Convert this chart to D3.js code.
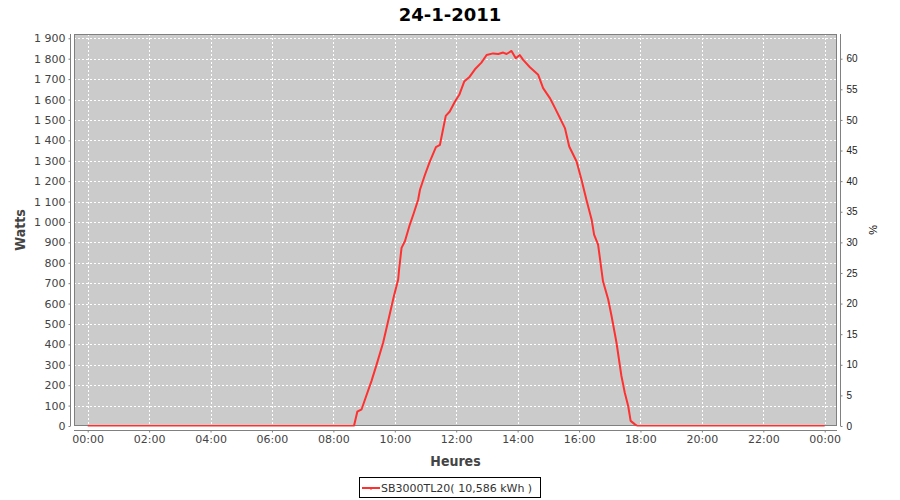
<!DOCTYPE html>
<html>
<head>
<meta charset="utf-8">
<script src="https://cdn.jsdelivr.net/npm/d3@7"></script>
<style>
  html, body { margin: 0; padding: 0; background: #ffffff; }
  svg { display: block; }
</style>
</head>
<body>
<svg id="chart" width="900" height="500"></svg>
<script>
// ---- data ----
const chartTitle = "24-1-2011";
const seriesName = "SB3000TL20( 10,586 kWh )";
const hours = [0, 8.67, 8.78, 8.92, 9.03, 9.24, 9.41, 9.62, 9.82, 9.97, 10.11, 10.14, 10.22, 10.33, 10.49, 10.62, 10.76, 10.82, 10.98, 11.14, 11.34, 11.47, 11.58, 11.66, 11.79, 11.96, 12.10, 12.26, 12.44, 12.61, 12.82, 12.99, 13.20, 13.37, 13.53, 13.64, 13.80, 13.94, 14.07, 14.18, 14.40, 14.67, 14.83, 15.05, 15.21, 15.37, 15.54, 15.68, 15.92, 16.08, 16.24, 16.41, 16.49, 16.62, 16.78, 16.95, 17.06, 17.22, 17.38, 17.49, 17.60, 17.68, 17.82, 17.90, 24];
const watts = [0, 0, 70, 82, 130, 220, 302, 408, 538, 636, 718, 767, 873, 905, 987, 1044, 1109, 1158, 1230, 1296, 1367, 1378, 1460, 1520, 1541, 1590, 1623, 1688, 1712, 1748, 1781, 1818, 1826, 1823, 1830, 1823, 1838, 1802, 1818, 1794, 1758, 1721, 1656, 1607, 1560, 1512, 1460, 1370, 1296, 1207, 1109, 1011, 938, 889, 709, 620, 538, 408, 245, 163, 98, 25, 8, 0, 0];
const xTickHours = [0, 2, 4, 6, 8, 10, 12, 14, 16, 18, 20, 22, 24];
const yTicksWatts = [0, 100, 200, 300, 400, 500, 600, 700, 800, 900, 1000, 1100, 1200, 1300, 1400, 1500, 1600, 1700, 1800, 1900];
const yTicksPercent = [0, 5, 10, 15, 20, 25, 30, 35, 40, 45, 50, 55, 60];
const nominalWatts = 3000;

// ---- layout ----
const svg = d3.select("#chart");
const plot = { left: 74, right: 837, top: 34, bottom: 426 };
const wMax = 1921;

const x = d3.scaleLinear().domain([-0.446, 24.4]).range([plot.left, plot.right]);
const y = d3.scaleLinear().domain([0, wMax]).range([plot.bottom, plot.top]);
const yR = d3.scaleLinear().domain([0, wMax / nominalWatts * 100]).range([plot.bottom, plot.top]);

const loc = d3.formatLocale({ decimal: ",", thousands: "\u00a0", grouping: [3], currency: ["", ""] });
const fmtW = loc.format(",d");
const fmtH = h => String(h % 24).padStart(2, "0") + ":00";

// plot background
svg.append("rect")
  .attr("x", plot.left).attr("y", plot.top)
  .attr("width", plot.right - plot.left).attr("height", plot.bottom - plot.top)
  .attr("fill", "#cbcbcb");

// gridlines
const grid = svg.append("g").attr("stroke", "#ffffff").attr("stroke-width", 1).attr("stroke-dasharray", "2,2");
grid.selectAll("line.h").data(yTicksWatts.filter(d => d > 0)).join("line")
  .attr("x1", plot.left).attr("x2", plot.right)
  .attr("y1", d => Math.round(y(d)) + 0.5).attr("y2", d => Math.round(y(d)) + 0.5);
grid.selectAll("line.v").data(xTickHours).join("line")
  .attr("y1", plot.top).attr("y2", plot.bottom)
  .attr("x1", d => Math.round(x(d)) + 0.5).attr("x2", d => Math.round(x(d)) + 0.5);

// plot outline
svg.append("rect")
  .attr("x", plot.left + 0.5).attr("y", plot.top + 0.5)
  .attr("width", plot.right - plot.left - 1).attr("height", plot.bottom - plot.top - 1)
  .attr("fill", "none").attr("stroke", "#808080").attr("stroke-width", 1);

// series line
svg.append("clipPath").attr("id", "clip").append("rect")
  .attr("x", plot.left).attr("y", plot.top)
  .attr("width", plot.right - plot.left).attr("height", plot.bottom - plot.top + 0.5);
const pts = hours.map((h, i) => [h, watts[i]]);
svg.append("path")
  .attr("clip-path", "url(#clip)")
  .attr("d", d3.line().x(d => x(d[0])).y(d => y(d[1]))(pts))
  .attr("fill", "none").attr("stroke", "#ff3030").attr("stroke-width", 2)
  .attr("stroke-linejoin", "round");

// axes
const tickFont = "'DejaVu Sans', Verdana, sans-serif";
function styleAxis(g, color, size, family) {
  g.select(".domain").attr("stroke", "#808080");
  g.selectAll(".tick line").attr("stroke", "#808080");
  g.selectAll(".tick text").attr("fill", color).style("font-size", size).style("font-family", family);
}

const gL = svg.append("g").attr("transform", "translate(70.5,0)")
  .call(d3.axisLeft(y).tickValues(yTicksWatts).tickFormat(fmtW).tickSize(2).tickSizeOuter(0).tickPadding(3));
gL.select(".domain").attr("d", `M0,${plot.top}V${plot.bottom}`);
styleAxis(gL, "#444444", "11px", tickFont);

const gB = svg.append("g").attr("transform", "translate(0,430.5)")
  .call(d3.axisBottom(x).tickValues(xTickHours).tickFormat(fmtH).tickSize(2).tickSizeOuter(0).tickPadding(3));
gB.select(".domain").attr("d", `M${plot.left},0H${plot.right}`);
styleAxis(gB, "#444444", "11px", tickFont);

const gR = svg.append("g").attr("transform", "translate(840.5,0)")
  .call(d3.axisRight(yR).tickValues(yTicksPercent).tickFormat(d3.format("d")).tickSize(2).tickSizeOuter(0).tickPadding(4));
gR.select(".domain").attr("d", `M0,${plot.top}V${plot.bottom}`);
styleAxis(gR, "#222222", "10px", "'Liberation Sans', Arial, sans-serif");

// titles
svg.append("text").text(chartTitle)
  .attr("x", 450).attr("y", 21).attr("text-anchor", "middle")
  .style("font-family", "'DejaVu Sans', sans-serif").style("font-weight", "bold").style("font-size", "18px")
  .attr("fill", "#000");

svg.append("text").text("Heures")
  .attr("x", (plot.left + plot.right) / 2).attr("y", 466).attr("text-anchor", "middle")
  .style("font-family", "'DejaVu Sans Condensed', 'DejaVu Sans', sans-serif").style("font-weight", "bold").style("font-size", "14px")
  .attr("fill", "#444444");

svg.append("text").text("Watts")
  .attr("transform", `translate(25,${(plot.top + plot.bottom) / 2}) rotate(-90)`)
  .attr("text-anchor", "middle")
  .style("font-family", "'DejaVu Sans Condensed', 'DejaVu Sans', sans-serif").style("font-weight", "bold").style("font-size", "14px")
  .attr("fill", "#444444");

svg.append("text").text("%")
  .attr("transform", `translate(869,${(plot.top + plot.bottom) / 2}) rotate(90)`)
  .attr("text-anchor", "middle")
  .style("font-family", "'Liberation Sans', Arial, sans-serif").style("font-size", "11px")
  .attr("fill", "#000");

// legend
const lg = svg.append("g");
lg.append("rect").attr("x", 359.5).attr("y", 477.5).attr("width", 181).attr("height", 20)
  .attr("fill", "#fff").attr("stroke", "#000").attr("stroke-width", 1);
lg.append("line").attr("x1", 362).attr("x2", 380).attr("y1", 488).attr("y2", 488)
  .attr("stroke", "#ff3030").attr("stroke-width", 2);
lg.append("line").attr("x1", 371).attr("x2", 371).attr("y1", 488).attr("y2", 490)
  .attr("stroke", "#ff3030").attr("stroke-width", 1);
lg.append("text").text(seriesName)
  .attr("x", 381).attr("y", 492)
  .style("font-family", tickFont).style("font-size", "11px").attr("fill", "#333333");
</script>
</body>
</html>
